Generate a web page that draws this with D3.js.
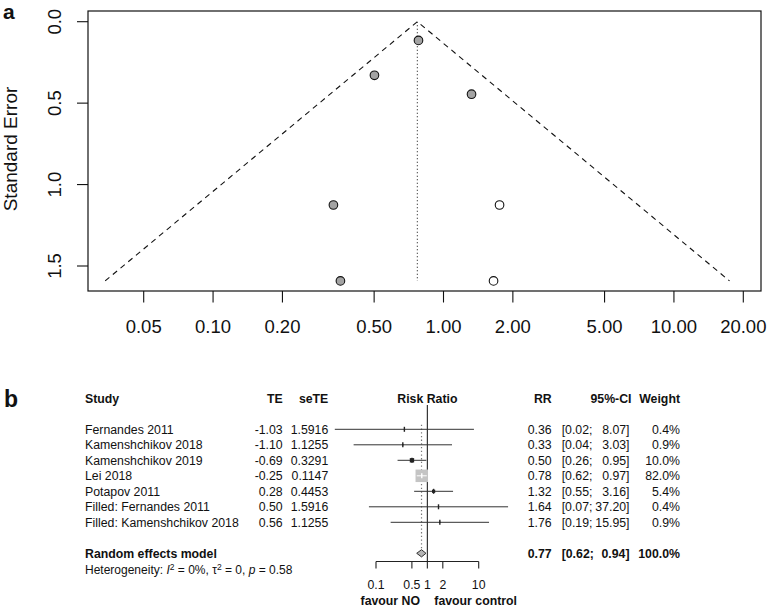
<!DOCTYPE html>
<html><head><meta charset="utf-8">
<script src="https://cdn.jsdelivr.net/npm/d3@7"></script>
<style>
html,body{margin:0;padding:0;background:#fff;}
svg{display:block;font-family:"Liberation Sans",Arial,sans-serif;}
text{fill:#111;}
</style></head>
<body>
<svg id="chart" width="768" height="607"></svg>
<script>
// ---------- data ----------
const studies = ["Fernandes 2011","Kamenshchikov 2018","Kamenshchikov 2019","Lei 2018","Potapov 2011","Filled: Fernandes 2011","Filled: Kamenshchikov 2018"];
const teLabels = ["-1.03","-1.10","-0.69","-0.25","0.28","0.50","0.56"];
const te = [-1.03,-1.10,-0.69,-0.25,0.28,0.50,0.56];
const seLabels = ["1.5916","1.1255","0.3291","0.1147","0.4453","1.5916","1.1255"];
const seTE = [1.5916,1.1255,0.3291,0.1147,0.4453,1.5916,1.1255];
const filled = [false,false,false,false,false,true,true];
const rrLabels = ["0.36","0.33","0.50","0.78","1.32","1.64","1.76"];
const ciLowLabels = ["[0.02;","[0.04;","[0.26;","[0.62;","[0.55;","[0.07;","[0.19;"];
const ciHighLabels = ["8.07]","3.03]","0.95]","0.97]","3.16]","37.20]","15.95]"];
const weights = [0.4,0.9,10.0,82.0,5.4,0.4,0.9];
const weightLabels = ["0.4%","0.9%","10.0%","82.0%","5.4%","0.4%","0.9%"];
const pooledRR = 0.77, pooledLow = 0.62, pooledHigh = 0.94;
const pooledLabels = ["0.77","[0.62;","0.94]","100.0%"];
const funnelXTicks = [0.05,0.10,0.20,0.50,1.00,2.00,5.00,10.00,20.00];
const funnelXTickLabels = ["0.05","0.10","0.20","0.50","1.00","2.00","5.00","10.00","20.00"];
const funnelYTicks = [0.0,0.5,1.0,1.5];
const funnelYTickLabels = ["0.0","0.5","1.0","1.5"];
const forestTicks = [0.1,0.5,1,2,10];
const forestTickLabels = ["0.1","0.5","1","2","10"];

const svg = d3.select("#chart");

// ---------- panel a: funnel plot ----------
const fx = d3.scaleLog().domain([0.05,20]).range([143.7,743.3]);
const fy = d3.scaleLinear().domain([0,1.5]).range([21.7,266]);
const box = {x0:88,x1:761,y0:11,y1:291};
const ga = svg.append("g");
ga.append("text").attr("x",3).attr("y",19).attr("font-size",21).attr("font-weight","bold").text("a");

ga.append("rect").attr("x",box.x0).attr("y",box.y0).attr("width",box.x1-box.x0).attr("height",box.y1-box.y0)
  .attr("fill","none").attr("stroke","#111").attr("stroke-width",1.2);

const maxSE = d3.max(seTE);
const lnPooled = Math.log(pooledRR);
const funnelPts = [
  [Math.exp(lnPooled-1.96*maxSE), maxSE],
  [pooledRR, 0],
  [Math.exp(lnPooled+1.96*maxSE), maxSE]
];
ga.append("path").attr("d",d3.line().x(d=>fx(d[0])).y(d=>fy(d[1]))(funnelPts))
  .attr("fill","none").attr("stroke","#111").attr("stroke-width",1.1).attr("stroke-dasharray","5.5,4.5");
ga.append("line").attr("x1",fx(pooledRR)).attr("x2",fx(pooledRR)).attr("y1",fy(0)).attr("y2",fy(maxSE))
  .attr("stroke","#222").attr("stroke-width",1.1).attr("stroke-dasharray","1,2.5");

ga.selectAll("circle.pt").data(te.map((t,i)=>({t,se:seTE[i],f:filled[i]}))).enter().append("circle")
  .attr("cx",d=>fx(Math.exp(d.t))).attr("cy",d=>fy(d.se)).attr("r",4.3)
  .attr("fill",d=>d.f?"#fff":"#a3a3a3").attr("stroke","#111").attr("stroke-width",1.1);

// x axis
const xt = ga.selectAll("g.xt").data(funnelXTicks).enter().append("g");
xt.append("line").attr("x1",d=>fx(d)).attr("x2",d=>fx(d)).attr("y1",box.y1).attr("y2",box.y1+11.5).attr("stroke","#111").attr("stroke-width",1.1);
xt.append("text").attr("x",d=>fx(d)).attr("y",333).attr("text-anchor","middle").attr("font-size",18.5)
  .text((d,i)=>funnelXTickLabels[i]);
// y axis
const yt = ga.selectAll("g.yt").data(funnelYTicks).enter().append("g");
yt.append("line").attr("x1",box.x0-11).attr("x2",box.x0).attr("y1",d=>fy(d)).attr("y2",d=>fy(d)).attr("stroke","#111").attr("stroke-width",1.1);
yt.append("text").attr("transform",d=>`translate(60.7,${fy(d)}) rotate(-90)`).attr("text-anchor","middle").attr("font-size",18.5)
  .text((d,i)=>funnelYTickLabels[i]);
ga.append("text").attr("transform",`translate(16.5,149) rotate(-90)`).attr("text-anchor","middle").attr("font-size",19)
  .text("Standard Error");

// ---------- panel b: forest plot ----------
const gb = svg.append("g").attr("font-size",12.3);
gb.append("text").attr("x",4).attr("y",406.5).attr("font-size",23).attr("font-weight","bold").text("b");

const rowY = i => 429.3 + i*15.5;
const headY = rowY(-2), poolY = rowY(8);
const bx = d3.scaleLog().domain([0.1,10]).range([376,478.7]);
const sq = d3.scaleSqrt().domain([0,82]).range([0,12.5]);
const off = 4.3;

// headers
const hdr = gb.append("g").attr("font-weight","bold");
hdr.append("text").attr("x",85).attr("y",headY+off).text("Study");
hdr.append("text").attr("x",282.7).attr("y",headY+off).attr("text-anchor","end").text("TE");
hdr.append("text").attr("x",328.3).attr("y",headY+off).attr("text-anchor","end").text("seTE");
hdr.append("text").attr("x",bx(1)).attr("y",headY+off).attr("text-anchor","middle").text("Risk Ratio");
hdr.append("text").attr("x",551.7).attr("y",headY+off).attr("text-anchor","end").text("RR");
hdr.append("text").attr("x",631.5).attr("y",headY+off).attr("text-anchor","end").text("95%-CI");
hdr.append("text").attr("x",680).attr("y",headY+off).attr("text-anchor","end").text("Weight");

// rows text
const rows = gb.selectAll("g.row").data(studies).enter().append("g");
rows.append("text").attr("x",85).attr("y",(d,i)=>rowY(i)+off).text(d=>d);
rows.append("text").attr("x",282.7).attr("y",(d,i)=>rowY(i)+off).attr("text-anchor","end").text((d,i)=>teLabels[i]);
rows.append("text").attr("x",328.3).attr("y",(d,i)=>rowY(i)+off).attr("text-anchor","end").text((d,i)=>seLabels[i]);
rows.append("text").attr("x",551.7).attr("y",(d,i)=>rowY(i)+off).attr("text-anchor","end").text((d,i)=>rrLabels[i]);
rows.append("text").attr("x",561.7).attr("y",(d,i)=>rowY(i)+off).text((d,i)=>ciLowLabels[i]);
rows.append("text").attr("x",629.5).attr("y",(d,i)=>rowY(i)+off).attr("text-anchor","end").text((d,i)=>ciHighLabels[i]);
rows.append("text").attr("x",680).attr("y",(d,i)=>rowY(i)+off).attr("text-anchor","end").text((d,i)=>weightLabels[i]);

// pooled row
const pr = gb.append("g").attr("font-weight","bold");
pr.append("text").attr("x",85).attr("y",poolY+off).text("Random effects model");
pr.append("text").attr("x",551.7).attr("y",poolY+off).attr("text-anchor","end").text(pooledLabels[0]);
pr.append("text").attr("x",561.7).attr("y",poolY+off).text(pooledLabels[1]);
pr.append("text").attr("x",629.5).attr("y",poolY+off).attr("text-anchor","end").text(pooledLabels[2]);
pr.append("text").attr("x",680).attr("y",poolY+off).attr("text-anchor","end").text(pooledLabels[3]);

// heterogeneity
const het = gb.append("text").attr("x",85).attr("y",574.2).attr("font-size",12);
het.append("tspan").text("Heterogeneity: ");
het.append("tspan").attr("font-style","italic").text("I");
het.append("tspan").attr("font-size",8.5).attr("dy",-4.5).text("2");
het.append("tspan").attr("dy",4.5).text(" = 0%, τ");
het.append("tspan").attr("font-size",8.5).attr("dy",-4.5).text("2");
het.append("tspan").attr("dy",4.5).text(" = 0, ");
het.append("tspan").attr("font-style","italic").text("p");
het.append("tspan").text(" = 0.58");

// reference line (RR = 1)
gb.append("line").attr("x1",bx(1)).attr("x2",bx(1)).attr("y1",405).attr("y2",561.5).attr("stroke","#222").attr("stroke-width",1.1);
// pooled dotted line
gb.append("line").attr("x1",bx(pooledRR)).attr("x2",bx(pooledRR)).attr("y1",rowY(0)-4.5).attr("y2",poolY-4)
  .attr("stroke","#777").attr("stroke-width",1.2).attr("stroke-dasharray","1.3,2.4");

// CIs & squares
const ci = gb.selectAll("g.ci").data(te.map((t,i)=>({t,se:seTE[i],w:weights[i],i}))).enter().append("g");
ci.append("line").attr("x1",d=>bx(Math.exp(d.t-1.96*d.se))).attr("x2",d=>bx(Math.exp(d.t+1.96*d.se)))
  .attr("y1",d=>rowY(d.i)).attr("y2",d=>rowY(d.i)).attr("stroke","#333").attr("stroke-width",1);
ci.append("rect").attr("x",d=>bx(Math.exp(d.t))-sq(d.w)/2).attr("y",d=>rowY(d.i)-sq(d.w)/2)
  .attr("width",d=>sq(d.w)).attr("height",d=>sq(d.w))
  .attr("fill",d=>d.w>50?"#c4c4c4":"#222");
ci.append("line").attr("x1",d=>bx(Math.exp(d.t))).attr("x2",d=>bx(Math.exp(d.t)))
  .attr("y1",d=>rowY(d.i)-2.5).attr("y2",d=>rowY(d.i)+2.5)
  .attr("stroke",d=>d.w>50?"#fff":"#222").attr("stroke-width",1.4);
// white CI segment within large square
ci.filter(d=>d.w>50).append("line")
  .attr("x1",d=>Math.max(bx(Math.exp(d.t-1.96*d.se)),bx(Math.exp(d.t))-sq(d.w)/2))
  .attr("x2",d=>Math.min(bx(Math.exp(d.t+1.96*d.se)),bx(Math.exp(d.t))+sq(d.w)/2))
  .attr("y1",d=>rowY(d.i)).attr("y2",d=>rowY(d.i)).attr("stroke","#fff").attr("stroke-width",1);

// diamond
const dpts = [[pooledLow,0],[pooledRR,-3.6],[pooledHigh,0],[pooledRR,3.6]];
gb.append("path").attr("d","M"+dpts.map(p=>[bx(p[0]),poolY+p[1]].join(",")).join("L")+"Z")
  .attr("fill","#b5b5b5").attr("stroke","#333").attr("stroke-width",1);

// forest axis
const fa = gb.append("g");
fa.append("line").attr("x1",bx(0.1)).attr("x2",bx(10)).attr("y1",561.5).attr("y2",561.5).attr("stroke","#222").attr("stroke-width",1.1);
fa.selectAll("line.t").data(forestTicks).enter().append("line")
  .attr("x1",d=>bx(d)).attr("x2",d=>bx(d)).attr("y1",561.5).attr("y2",568.5).attr("stroke","#222").attr("stroke-width",1.1);
fa.selectAll("text.t").data(forestTicks).enter().append("text")
  .attr("x",d=>bx(d)).attr("y",589).attr("text-anchor","middle").text((d,i)=>forestTickLabels[i]);
gb.append("text").attr("x",420).attr("y",604.5).attr("text-anchor","end").attr("font-weight","bold").text("favour NO");
gb.append("text").attr("x",434.3).attr("y",604.5).attr("font-weight","bold").text("favour control");
</script>
</body></html>
